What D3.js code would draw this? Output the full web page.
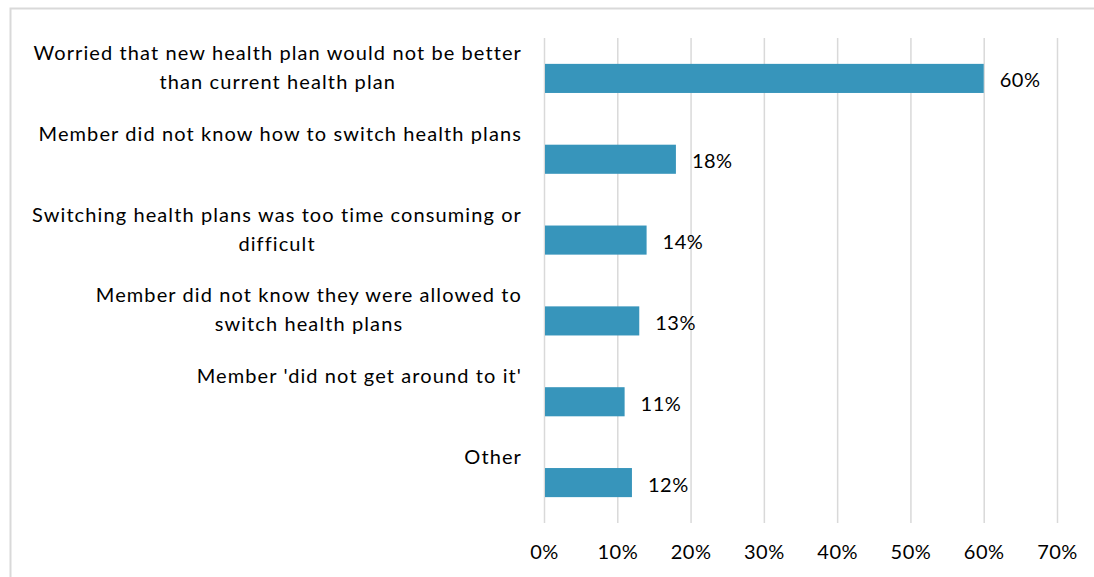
<!DOCTYPE html>
<html>
<head>
<meta charset="utf-8">
<script src="https://cdn.jsdelivr.net/npm/d3@7"></script>
<style>
  body { margin: 0; background: #fff; }
  svg text { font-family: Lato, "Open Sans", sans-serif; fill: #000; }
</style>
</head>
<body>
<div id="chart"></div>
<script>
// Categories (label lines) and percentages.
var categories = [
    ['Worried that new health plan would not be better', 'than current health plan'],
    ['Member did not know how to switch health plans'],
    ['Switching health plans was too time consuming or', 'difficult'],
    ['Member did not know they were allowed to', 'switch health plans'],
    ["Member 'did not get around to it'"],
    ['Other']
];
var values = [60, 18, 14, 13, 11, 12];
var xTicks = [0, 10, 20, 30, 40, 50, 60, 70];

var W = 1094, H = 577;
var margin = {top: 38, right: 37, bottom: 54, left: 544};
var barColor = '#3795bb';
var gridColor = '#d9d9d9';

var svg = d3.select('#chart').append('svg')
    .attr('width', W)
    .attr('height', H);

// Outer chart border.
svg.append('rect')
    .attr('x', 10.5).attr('y', 8.5)
    .attr('width', W + 10).attr('height', H + 10)
    .attr('fill', 'none')
    .attr('stroke', gridColor)
    .attr('stroke-width', 2);

var x = d3.scaleLinear().domain([0, 70]).range([margin.left, W - margin.right]);
var y = d3.scaleBand()
    .domain(d3.range(values.length))
    .range([margin.top, H - margin.bottom])
    .paddingInner(0.64).paddingOuter(0.32);

// Vertical gridlines + tick labels via the axis.
var xAxis = d3.axisBottom(x)
    .tickValues(xTicks)
    .tickFormat(function (d) { return d + '%'; })
    .tickSize(-(H - margin.bottom - margin.top))
    .tickPadding(22);
svg.append('g')
    .attr('transform', 'translate(0,' + (H - margin.bottom) + ')')
    .call(xAxis)
    .call(function (g) { g.select('.domain').remove(); })
    .call(function (g) {
        g.selectAll('.tick line').attr('stroke', gridColor).attr('stroke-width', 1.5);
        g.selectAll('.tick text').style('font-size', '20px').style('letter-spacing', '0.5px');
    });

// Bars.
svg.selectAll('.bar')
    .data(values)
    .enter()
    .append('rect')
    .attr('class', 'bar')
    .attr('x', x(0) + 1)
    .attr('y', function (d, i) { return y(i); })
    .attr('width', function (d) { return x(d) - x(0) - 1; })
    .attr('height', y.bandwidth())
    .attr('fill', barColor);

// Value labels.
svg.selectAll('.val')
    .data(values)
    .enter()
    .append('text')
    .attr('class', 'val')
    .attr('x', function (d) { return x(d) + 16; })
    .attr('y', function (d, i) { return y(i) + y.bandwidth() / 2 + 2; })
    .attr('dy', '0.35em')
    .style('font-size', '20px')
    .style('letter-spacing', '0.5px')
    .text(function (d) { return d + '%'; });

// Category labels: box right-aligned, lines centred inside it, sitting above the bar.
var labelRight = 522, lineH = 29;
var lab = svg.selectAll('.cat')
    .data(categories)
    .enter()
    .append('text')
    .attr('class', 'cat')
    .style('font-size', '20px')
    .style('letter-spacing', '1.1px')
    .attr('text-anchor', 'middle');
lab.each(function (lines, i) {
    var t = d3.select(this);
    lines.forEach(function (s, k) {
        t.append('tspan').text(s)
            .attr('y', y(i) - 11 + k * lineH)
            .attr('dy', '0.35em');
    });
    var w = d3.max(t.selectAll('tspan').nodes(), function (n) { return n.getComputedTextLength(); });
    t.selectAll('tspan').attr('x', labelRight - w / 2);
});
</script>
</body>
</html>
